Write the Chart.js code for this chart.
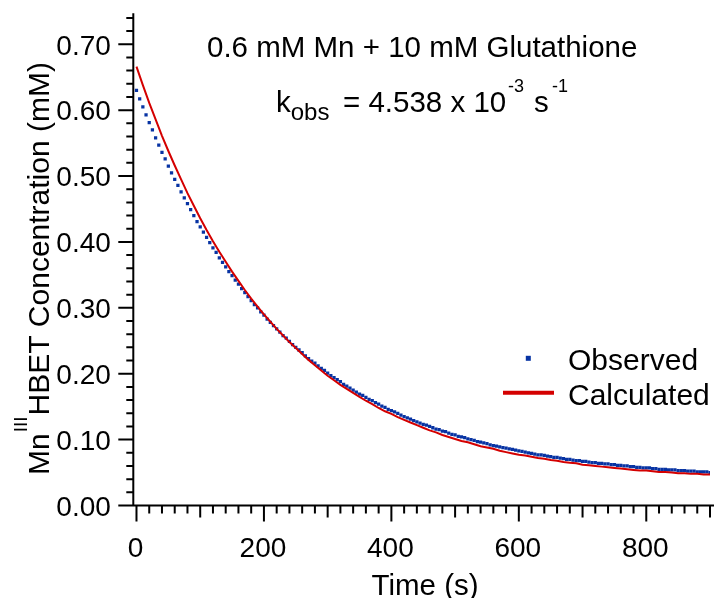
<!DOCTYPE html>
<html>
<head>
<meta charset="utf-8">
<script src="https://cdn.jsdelivr.net/npm/chart.js@4.4.1/dist/chart.umd.min.js"></script>
<style>
html, body { margin: 0; padding: 0; background: #fff; }
#wrap { width: 714px; height: 598px; }
</style>
</head>
<body>
<div id="wrap"><canvas id="myChart" width="714" height="598"></canvas></div>
<script>
// observed Mn(III)HBET, one reading every 5 s from t = 0 to 900 s
const obsStep = 5;
const observed = [
  0.630,0.617,0.605,0.593,0.581,0.570,0.558,0.547,0.536,0.526,
  0.515,0.505,0.495,0.486,0.476,0.467,0.458,0.449,0.440,0.431,
  0.423,0.415,0.407,0.399,0.391,0.384,0.376,0.369,0.362,0.355,
  0.349,0.342,0.336,0.329,0.323,0.317,0.311,0.305,0.300,0.294,
  0.289,0.283,0.278,0.273,0.268,0.263,0.258,0.254,0.249,0.244,
  0.240,0.236,0.232,0.227,0.223,0.219,0.216,0.212,0.208,0.205,
  0.201,0.197,0.194,0.191,0.188,0.184,0.181,0.178,0.175,0.172,
  0.169,0.167,0.164,0.161,0.159,0.156,0.154,0.151,0.149,0.146,
  0.144,0.142,0.140,0.137,0.135,0.133,0.131,0.129,0.127,0.125,
  0.123,0.122,0.120,0.118,0.116,0.115,0.113,0.112,0.110,0.108,
  0.107,0.105,0.104,0.103,0.101,0.100,0.099,0.097,0.096,0.095,
  0.094,0.092,0.091,0.090,0.089,0.088,0.087,0.086,0.085,0.084,
  0.083,0.082,0.081,0.080,0.079,0.078,0.077,0.077,0.076,0.075,
  0.074,0.073,0.073,0.072,0.071,0.070,0.070,0.069,0.068,0.068,
  0.067,0.067,0.066,0.065,0.065,0.064,0.064,0.063,0.063,0.062,
  0.062,0.061,0.061,0.060,0.060,0.059,0.059,0.058,0.058,0.057,
  0.057,0.057,0.056,0.056,0.055,0.055,0.055,0.054,0.054,0.054,
  0.053,0.053,0.053,0.052,0.052,0.052,0.051,0.051,0.051,0.051,
  0.050
];

// calculated fit, every 10 s
const calcStep = 10;
const calculated = [
  0.666,0.638,0.611,0.586,0.561,0.538,0.516,0.495,0.474,0.455,
  0.436,0.418,0.401,0.385,0.370,0.355,0.341,0.327,0.314,0.302,
  0.290,0.279,0.268,0.258,0.248,0.239,0.230,0.221,0.213,0.205,
  0.197,0.190,0.183,0.177,0.171,0.165,0.159,0.154,0.148,0.143,
  0.139,0.134,0.130,0.126,0.122,0.118,0.114,0.111,0.107,0.104,
  0.101,0.098,0.096,0.093,0.090,0.088,0.086,0.083,0.081,0.079,
  0.077,0.076,0.074,0.072,0.071,0.069,0.068,0.066,0.065,0.064,
  0.062,0.061,0.060,0.059,0.058,0.057,0.056,0.055,0.054,0.053,
  0.053,0.052,0.051,0.051,0.050,0.049,0.049,0.048,0.048,0.047,
  0.047
];

const xTickValues = [0, 200, 400, 600, 800];
const yTickValues = [0, 0.1, 0.2, 0.3, 0.4, 0.5, 0.6, 0.7];
const seriesNames = ['Observed', 'Calculated'];

const blue = '#0733a3';
const red = '#d40000';
const family = '"Liberation Sans", Arial, Helvetica, sans-serif';

const axesPlugin = {
  id: 'axes',
  afterDraw(chart) {
    const {ctx, chartArea: a, scales: {x, y}} = chart;
    ctx.save();
    ctx.strokeStyle = '#000';
    ctx.lineWidth = 2;
    ctx.beginPath();
    ctx.moveTo(a.left, a.top);
    ctx.lineTo(a.left, a.bottom + 1);
    ctx.moveTo(a.left - 1, a.bottom);
    ctx.lineTo(714, a.bottom);
    // x ticks: minor every 20, mid at 100, major at 200
    for (let v = 0; v <= 900; v += 20) {
      const px = x.getPixelForValue(v);
      const len = v % 200 === 0 ? 16 : (v % 100 === 0 ? 12 : 8);
      ctx.moveTo(px, a.bottom);
      ctx.lineTo(px, a.bottom + len);
    }
    // y ticks: minor every 0.02, major every 0.1
    for (let i = 0; i <= 37; i++) {
      const py = y.getPixelForValue(i * 0.02);
      const len = i % 5 === 0 ? 15 : 7;
      ctx.moveTo(a.left, py);
      ctx.lineTo(a.left - len, py);
    }
    ctx.stroke();

    ctx.fillStyle = '#000';
    ctx.textBaseline = 'alphabetic';

    // tick labels
    ctx.font = '28px ' + family;
    ctx.textAlign = 'right';
    yTickValues.forEach(v => {
      ctx.fillText(v.toFixed(2), a.left - 22.5, y.getPixelForValue(v) + 10.3);
    });
    ctx.textAlign = 'center';
    xTickValues.forEach(v => {
      ctx.fillText(String(v), x.getPixelForValue(v) - 1, 557);
    });

    ctx.textAlign = 'left';
    // y axis title with superscript
    ctx.save();
    ctx.translate(49, 475);
    ctx.rotate(-Math.PI / 2);
    ctx.font = '30px ' + family;
    ctx.fillText('Mn', 0, 0);
    let w = ctx.measureText('Mn').width;
    ctx.font = '19px ' + family;
    ctx.fillText('III', w + 1, -22);
    w += 1 + ctx.measureText('III').width;
    ctx.font = '30px ' + family;
    ctx.fillText('HBET Concentration (mM)', w + 1, 0);
    ctx.restore();

    // x axis title
    ctx.font = '29.5px ' + family;
    ctx.textAlign = 'center';
    ctx.fillText('Time (s)', 425, 595);
    ctx.textAlign = 'left';

    // annotation
    ctx.fillText('0.6 mM Mn + 10 mM Glutathione', 207, 56.7);
    ctx.fillText('k', 276, 111.7);
    const kw = ctx.measureText('k').width;
    ctx.font = '24px ' + family;
    ctx.fillText('obs', 276 + kw, 120);
    ctx.font = '29.5px ' + family;
    ctx.fillText('= 4.538 x 10', 343, 111.7);
    ctx.fillText('s', 534, 111.7);
    ctx.font = '18px ' + family;
    ctx.fillText('-3', 508, 91.5);
    ctx.fillText('-1', 552, 91.5);

    // legend
    ctx.fillStyle = blue;
    ctx.fillRect(525.8, 355.8, 5, 5);
    ctx.strokeStyle = red;
    ctx.lineWidth = 4;
    ctx.beginPath();
    ctx.moveTo(503, 392.7);
    ctx.lineTo(554, 392.7);
    ctx.stroke();
    ctx.fillStyle = '#000';
    ctx.font = '30px ' + family;
    ctx.fillText(seriesNames[0], 568, 369.5);
    ctx.fillText(seriesNames[1], 568, 404.5);
    ctx.restore();
  }
};

const ctx = document.getElementById('myChart');

new Chart(ctx, {
  type: 'scatter',
  data: {
    datasets: [{
      label: seriesNames[1],
      data: calculated.map((v, i) => ({x: i * calcStep, y: v})),
      showLine: true,
      borderColor: red,
      borderWidth: 2,
      pointRadius: 0,
      tension: 0,
      order: 0
    }, {
      label: seriesNames[0],
      data: observed.map((v, i) => ({x: i * obsStep, y: v})),
      showLine: false,
      pointStyle: 'rect',
      pointRadius: 2.3,
      pointBorderWidth: 0,
      backgroundColor: blue,
      borderColor: blue,
      order: 1
    }]
  },
  options: {
    responsive: false,
    animation: false,
    events: [],
    layout: { padding: { top: 13.3, right: 1.3, left: 0, bottom: 0 } },
    plugins: { legend: { display: false }, tooltip: { enabled: false } },
    scales: {
      x: {
        type: 'linear',
        min: -5,
        max: 900,
        grid: { display: false, drawTicks: false, tickLength: 0 },
        border: { display: false },
        ticks: { display: false },
        afterFit: s => {
          s.height = 92.5;
          s.paddingLeft = 0; s.paddingRight = 0; s.paddingTop = 0; s.paddingBottom = 0;
        }
      },
      y: {
        type: 'linear',
        min: 0,
        max: 0.747,
        grid: { display: false, drawTicks: false, tickLength: 0 },
        border: { display: false },
        ticks: { display: false },
        afterFit: s => {
          s.width = 133.3;
          s.paddingLeft = 0; s.paddingRight = 0; s.paddingTop = 0; s.paddingBottom = 0;
        }
      }
    }
  },
  plugins: [axesPlugin]
});
</script>
</body>
</html>
